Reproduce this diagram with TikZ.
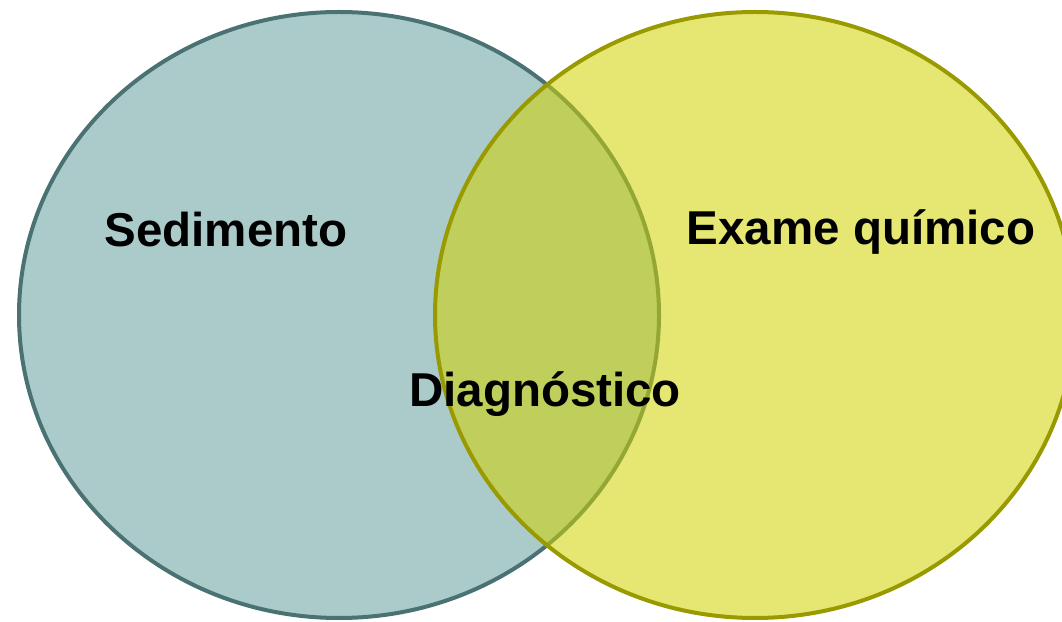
\documentclass[tikz,border=0pt]{standalone}
\usepackage{fontspec}
\setmainfont{Liberation Sans}
\definecolor{sedfill}{HTML}{ABCBCB}
\definecolor{sedline}{HTML}{4A7272}
\definecolor{quifill}{HTML}{D2D200}
\definecolor{quiline}{HTML}{999900}
\tikzset{
  setlabel/.style={font=\fontsize{47.5}{52}\selectfont\bfseries, text=black, inner sep=0pt, anchor=base},
}
\begin{document}
\begin{tikzpicture}[x=1pt,y=1pt]
  \useasboundingbox (0,0) rectangle (1062,621);
  \clip (0,0) rectangle (1062,621);
  % Sedimento set
  \path[fill=sedfill, draw=sedline, line width=4pt] (339,306) ellipse [x radius=320, y radius=303];
  % Exame quimico set, translucent over the first
  \path[fill=quifill, fill opacity=0.55, draw=quiline, line width=4pt] (755,306) ellipse [x radius=320, y radius=303];
  % labels
  \node[setlabel] (sed) at (226,374) {Sedimento};
  \node[setlabel] (qui) at (861,376) {Exame químico};
  \node[setlabel] (diag) at (545,214) {Diagnóstico};
\end{tikzpicture}
\end{document}
